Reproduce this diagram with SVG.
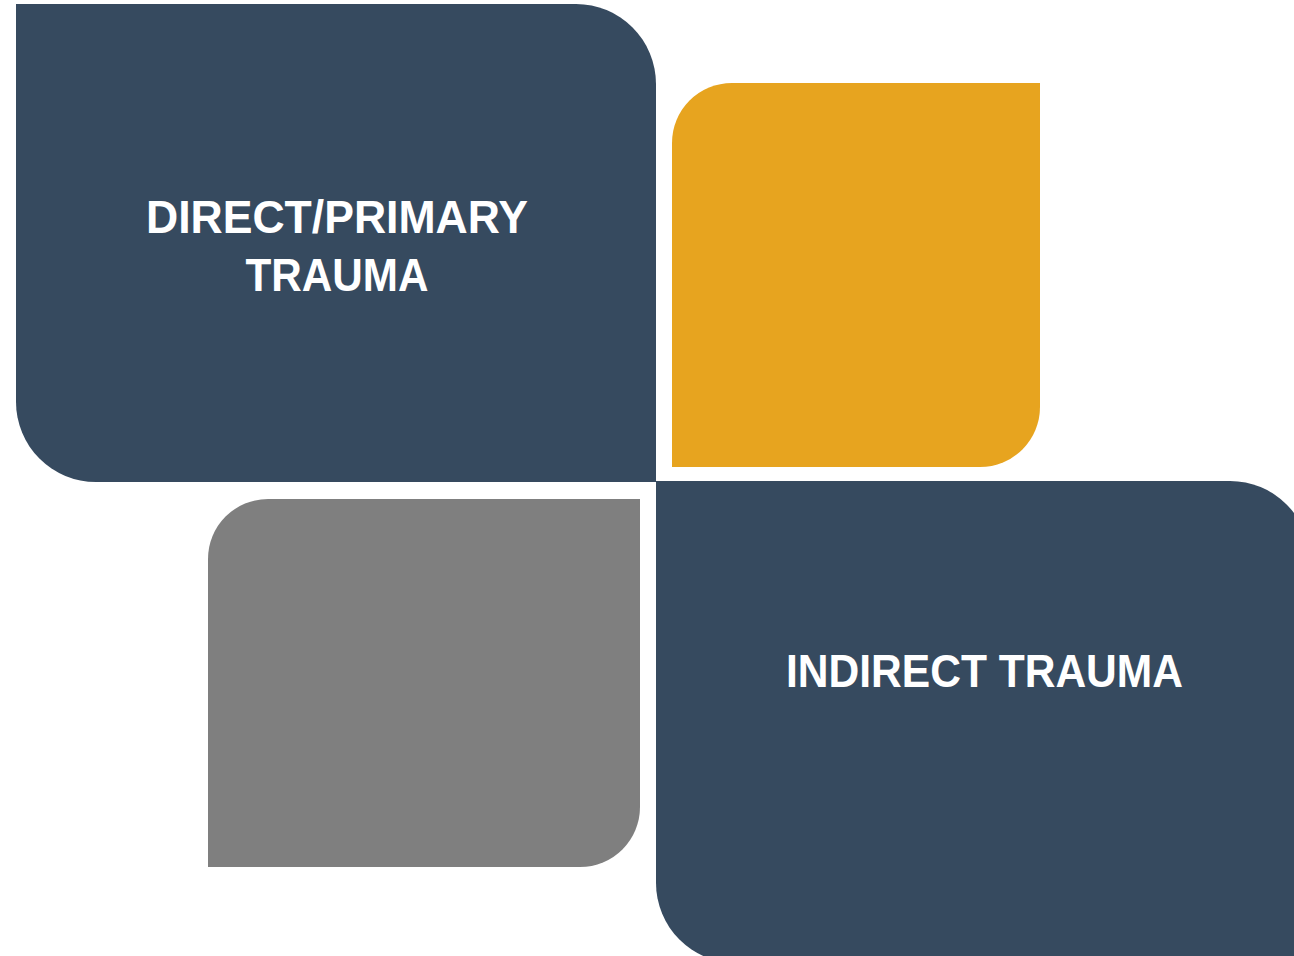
<svg xmlns="http://www.w3.org/2000/svg" width="1294" height="956" viewBox="0 0 1294 956">
  <style>
    .blue { fill: #364A5F; }
    .orange { fill: #E7A41F; }
    .gray { fill: #7F7F7F; }
    .label { font-family: "Liberation Sans", Arial, sans-serif; font-weight: bold; font-size: 47px; fill: #FFFFFF; text-anchor: middle; }
  </style>
  <rect width="1294" height="956" fill="#FFFFFF"/>
  <g id="direct-primary">
    <path class="blue" d="M16,4 H576 A80,80 0 0 1 656,84 V482 H96 A80,80 0 0 1 16,402 Z"/>
    <text class="label" x="337" y="233" textLength="382" lengthAdjust="spacingAndGlyphs">DIRECT/PRIMARY</text>
    <text class="label" x="337" y="291" textLength="183" lengthAdjust="spacingAndGlyphs">TRAUMA</text>
  </g>
  <g id="orange-box">
    <path class="orange" d="M732,83 H1040 V407 A60,60 0 0 1 980,467 H672 V143 A60,60 0 0 1 732,83 Z"/>
  </g>
  <g id="gray-box">
    <path class="gray" d="M268,499 H640 V807 A60,60 0 0 1 580,867 H208 V559 A60,60 0 0 1 268,499 Z"/>
  </g>
  <g id="indirect">
    <path class="blue" d="M656,481 H1230 A80,80 0 0 1 1310,561 V963 H736 A80,80 0 0 1 656,883 Z"/>
    <text class="label" x="984.5" y="687" textLength="397" lengthAdjust="spacingAndGlyphs">INDIRECT TRAUMA</text>
  </g>
  <g id="connectors"/>
</svg>
